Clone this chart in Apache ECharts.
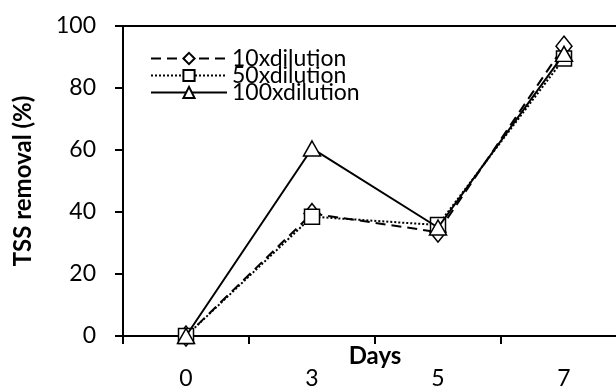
<!DOCTYPE html>
<html>
<head>
<meta charset="utf-8">
<style>
  html, body { margin: 0; padding: 0; background: #fff; }
  #tss_chart { width: 616px; height: 390px; }
</style>
<script src="https://cdn.jsdelivr.net/npm/echarts@6/dist/echarts.min.js"></script>
</head>
<body>
<div id="tss_chart"></div>
<script>
// Chart data
var days = ["0", "3", "5", "7"];
var dilution10 = [0, 39.5, 33.5, 93.5];
var dilution50 = [0, 38.5, 35.8, 89.5];
var dilution100 = [0, 60.5, 35, 91];
var yTicks = [0, 20, 40, 60, 80, 100];

var chartFont = "Lato, 'Open Sans', sans-serif";

var tssChart = (function () {
  var tssChartExample = function () {
    if (typeof echarts == "undefined") {
      console.warn("Warning - echarts.min.js is not loaded.");
      return;
    }

    var tss_element = document.getElementById("tss_chart");
    if (!tss_element) return;

    var tss_chart = echarts.init(tss_element);

    // common style for the hollow markers
    var markerStyle = { color: "#fff", borderColor: "#000", borderWidth: 1.5 };

    tss_chart.setOption({
      animation: false,
      textStyle: { fontFamily: chartFont, color: "#000" },

      // plot runs past the right edge of the picture
      grid: {
        left: 123,
        top: 26,
        width: 504,
        height: 310,
        outerBoundsMode: "none",
        containLabel: false,
        show: true,
        borderColor: "#000",
        borderWidth: 2,
      },

      legend: {
        orient: "vertical",
        left: 145,
        top: 42,
        itemWidth: 76,
        itemHeight: 14,
        itemGap: -6,
        textStyle: { fontFamily: chartFont, fontSize: 23, color: "#000" },
        data: ["10xdilution", "50xdilution", "100xdilution"],
      },

      xAxis: {
        type: "category",
        data: days,
        boundaryGap: true,
        name: "Days",
        nameLocation: "middle",
        nameGap: 8,
        nameMoveOverlap: false,
        nameTextStyle: { fontFamily: chartFont, fontSize: 24, fontWeight: "bold", color: "#000", verticalAlign: "top" },
        axisLine: { lineStyle: { color: "#000", width: 2 } },
        axisTick: { show: true, inside: false, length: 8, alignWithLabel: false, lineStyle: { color: "#000", width: 2 } },
        axisLabel: { fontFamily: chartFont, fontSize: 23, color: "#000", margin: 31 },
        splitLine: { show: false },
      },

      yAxis: {
        type: "value",
        min: yTicks[0],
        max: yTicks[yTicks.length - 1],
        interval: 20,
        name: "TSS removal (%)",
        nameLocation: "middle",
        nameGap: 88,
        nameMoveOverlap: false,
        nameTextStyle: { fontFamily: chartFont, fontSize: 24, fontWeight: "bold", color: "#000" },
        axisLine: { show: true, lineStyle: { color: "#000", width: 2 } },
        axisTick: { show: true, inside: false, length: 8, lineStyle: { color: "#000", width: 2 } },
        axisLabel: { fontFamily: chartFont, fontSize: 23, color: "#000", margin: 27 },
        splitLine: { show: false },
      },

      series: [
        {
          name: "10xdilution",
          type: "line",
          data: dilution10,
          symbol: "diamond",
          symbolSize: [16, 20],
          lineStyle: { color: "#000", width: 2, type: [10, 6] },
          itemStyle: markerStyle,
          z: 3,
        },
        {
          name: "50xdilution",
          type: "line",
          data: dilution50,
          symbol: "rect",
          symbolSize: 15,
          lineStyle: { color: "#000", width: 2, type: [2, 2] },
          itemStyle: markerStyle,
          z: 4,
        },
        {
          name: "100xdilution",
          type: "line",
          data: dilution100,
          symbol: "triangle",
          symbolSize: [17, 15],
          lineStyle: { color: "#000", width: 2, type: "solid" },
          itemStyle: markerStyle,
          z: 5,
        },
      ],
    });

    window.addEventListener("resize", function () {
      tss_chart.resize();
    });
  };

  return {
    init: function () {
      tssChartExample();
    },
  };
})();

document.addEventListener("DOMContentLoaded", function () {
  tssChart.init();
});
</script>
</body>
</html>
